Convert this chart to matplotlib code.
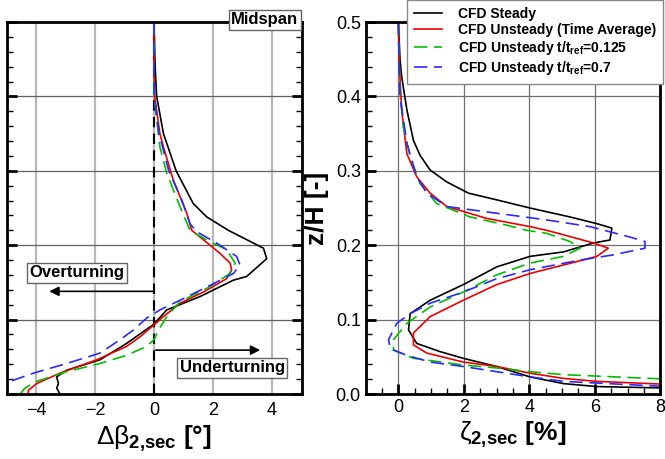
import matplotlib
matplotlib.use("Agg")
import matplotlib.pyplot as plt
from matplotlib.ticker import MultipleLocator

plt.rcParams['font.family'] = ['Liberation Sans', 'DejaVu Sans']
plt.rcParams['mathtext.fontset'] = 'custom'
plt.rcParams['mathtext.rm'] = 'Liberation Sans'
plt.rcParams['mathtext.it'] = 'Liberation Sans'
plt.rcParams['mathtext.bf'] = 'Liberation Sans:bold'

# ---------------- data: left panel (delta beta vs z/H) ----------------
z_b_steady = [0.5, 0.45, 0.43, 0.40, 0.35, 0.30, 0.256, 0.238, 0.22, 0.196, 0.182, 0.178, 0.158, 0.153,
              0.131, 0.113, 0.094, 0.068, 0.046, 0.032, 0.023, 0.014, 0.008, 0.0]
b_steady = [0.0, 0.03, 0.05, 0.09, 0.32, 0.75, 1.33, 1.79, 2.52, 3.71, 3.82, 3.71, 3.14, 2.69,
            1.56, 0.43, 0.0, -0.93, -1.83, -2.96, -3.3, -3.24, -3.3, -3.19]

z_b_avg = [0.5, 0.45, 0.40, 0.35, 0.332, 0.288, 0.243, 0.22, 0.211, 0.189, 0.176, 0.167, 0.155, 0.137,
           0.122, 0.104, 0.093, 0.077, 0.064, 0.046, 0.028, 0.014, 0.005, 0.0]
b_avg = [0.0, 0.0, 0.02, 0.2, 0.32, 0.65, 1.11, 1.28, 1.56, 2.24, 2.58, 2.63, 2.46, 1.67,
         0.88, 0.32, 0.0, -0.47, -0.93, -1.94, -3.19, -3.98, -4.26, -4.26]

z_b_t0125 = [0.5, 0.45, 0.40, 0.332, 0.297, 0.252, 0.22, 0.207, 0.194, 0.176, 0.162, 0.142, 0.124,
             0.104, 0.086, 0.073, 0.064, 0.052, 0.041, 0.03, 0.017, 0.008, 0.0]
b_t0125 = [0.0, 0.0, 0.0, 0.2, 0.43, 0.88, 1.22, 1.79, 2.46, 2.75, 2.58, 1.79, 0.88,
           0.43, 0.15, 0.0, -0.25, -0.93, -1.83, -2.96, -3.98, -4.37, -4.54]

z_b_t07 = [0.5, 0.45, 0.40, 0.35, 0.30, 0.26, 0.229, 0.218, 0.203, 0.185, 0.173, 0.162, 0.146, 0.126,
           0.113, 0.102, 0.086, 0.073, 0.055, 0.041, 0.028, 0.017, 0.012]
b_t07 = [0.0, 0.0, 0.01, 0.17, 0.5, 0.95, 1.22, 1.45, 2.12, 2.8, 2.92, 2.69, 1.9, 0.88,
         0.2, -0.25, -0.7, -1.15, -1.83, -2.96, -4.09, -4.88, -5.3]

# ---------------- data: right panel (zeta vs z/H) ----------------
z_z_steady = [0.5, 0.45, 0.427, 0.382, 0.341, 0.321, 0.301, 0.285, 0.27, 0.261, 0.25, 0.238, 0.229, 0.223,
              0.207, 0.203, 0.191, 0.185, 0.171, 0.147, 0.126, 0.108, 0.086, 0.068, 0.057, 0.048,
              0.037, 0.023, 0.014, 0.010, 0.008]
zeta_steady = [0.0, 0.05, 0.1, 0.26, 0.46, 0.66, 0.97, 1.48, 2.14, 3.0, 4.02, 5.24, 6.06, 6.52,
               6.46, 5.96, 5.04, 4.02, 3.01, 1.98, 0.97, 0.36, 0.31, 0.56, 1.27, 1.98,
               3.0, 4.02, 5.04, 6.06, 8.2]

z_z_avg = [0.5, 0.45, 0.382, 0.323, 0.292, 0.27, 0.252, 0.236, 0.225, 0.22, 0.214, 0.203, 0.196, 0.185,
           0.178, 0.162, 0.147, 0.126, 0.104, 0.082, 0.066, 0.055, 0.043, 0.037, 0.028, 0.021,
           0.017, 0.013]
zeta_avg = [0.0, 0.02, 0.1, 0.26, 0.56, 0.97, 1.48, 2.7, 4.02, 4.53, 5.04, 5.96, 6.41, 6.06,
            5.45, 4.02, 3.0, 1.98, 0.97, 0.46, 0.46, 0.87, 1.98, 3.0, 4.02, 5.04,
            6.06, 8.2]

z_z_t0125 = [0.5, 0.45, 0.409, 0.359, 0.319, 0.283, 0.256, 0.238, 0.227, 0.22, 0.216, 0.205, 0.196,
             0.185, 0.176, 0.16, 0.137, 0.117, 0.095, 0.073, 0.059, 0.048, 0.039, 0.035, 0.03,
             0.026, 0.02]
zeta_t0125 = [0.0, 0.02, 0.05, 0.15, 0.36, 0.66, 1.17, 2.19, 3.31, 3.92, 4.53, 5.24, 5.55,
              5.04, 4.02, 3.0, 1.98, 0.97, 0.26, -0.15, -0.15, 0.46, 1.98, 3.0, 4.02,
              5.04, 8.2]

z_z_t07 = [0.5, 0.45, 0.4, 0.337, 0.292, 0.27, 0.252, 0.243, 0.234, 0.225, 0.211, 0.205, 0.196,
           0.187, 0.18, 0.167, 0.155, 0.137, 0.122, 0.108, 0.095, 0.073, 0.061, 0.052, 0.043,
           0.037, 0.03, 0.023, 0.017, 0.01]
zeta_t07 = [0.0, 0.02, 0.05, 0.26, 0.56, 0.87, 1.48, 3.0, 4.53, 5.85, 7.07, 7.53, 7.53,
            6.56, 5.55, 4.02, 3.0, 1.98, 0.97, 0.36, -0.05, -0.3, -0.25, 0.26, 0.97,
            1.98, 3.0, 4.02, 5.04, 8.2]

labels = ['CFD Steady', 'CFD Unsteady (Time Average)',
          r'CFD Unsteady t/t$_{\mathbf{ref}}$=0.125', r'CFD Unsteady t/t$_{\mathbf{ref}}$=0.7']
colors = ['black', '#ee0000', '#00c000', '#2a2aff']
styles = ['-', '-', (0, (8, 4)), (0, (8, 4))]

fig = plt.figure(figsize=(6.65, 4.59), dpi=100)
axL = fig.add_axes([0.0098, 0.1416, 0.4436, 0.8104])
axR = fig.add_axes([0.5498, 0.1416, 0.4432, 0.8104])

lw = 1.2
for ax in (axL, axR):
    for s in ax.spines.values():
        s.set_linewidth(2.0)
    ax.set_ylim(0, 0.5)
    ax.yaxis.set_major_locator(MultipleLocator(0.1))
    ax.yaxis.set_minor_locator(MultipleLocator(0.02))
    ax.tick_params(axis='both', which='major', direction='in', length=7, width=2.0, labelsize=13)
    ax.tick_params(axis='both', which='minor', direction='in', length=4, width=1.0)
    ax.set_axisbelow(True)

# Left panel
axL.set_xlim(-5, 5)
axL.xaxis.set_major_locator(MultipleLocator(2))
axL.tick_params(axis='y', which='both', left=True, right=True, labelleft=False)
axL.tick_params(axis='x', which='major', length=0, pad=6)
axL.xaxis.grid(True, color='#b8b8b8', linewidth=1.6)
axL.yaxis.grid(True, color='#606060', linewidth=0.9)
axL.axvline(0, color='black', linestyle=(0, (5, 3)), linewidth=1.5, zorder=1.5)
axL.plot(b_steady, z_b_steady, color=colors[0], linestyle=styles[0], lw=lw)
axL.plot(b_avg, z_b_avg, color=colors[1], linestyle=styles[1], lw=lw)
axL.plot(b_t0125, z_b_t0125, color=colors[2], linestyle=styles[2], lw=lw)
axL.plot(b_t07, z_b_t07, color=colors[3], linestyle=styles[3], lw=lw)
axL.set_xlabel(r'$\Delta\beta_{\mathbf{2{,}sec}}$ [°]', fontsize=19, fontweight='bold', labelpad=3)

box = dict(boxstyle='square,pad=0.15', fc='white', ec='#666666', lw=1.0)
axL.text(-2.62, 0.163, 'Overturning', fontsize=12, fontweight='bold', ha='center', va='center', bbox=box)
axL.annotate('', xy=(-3.55, 0.138), xytext=(0.0, 0.138),
             arrowprops=dict(arrowstyle='-|>', color='black', lw=1.2, mutation_scale=14, shrinkA=0, shrinkB=0))
axL.text(2.65, 0.035, 'Underturning', fontsize=12, fontweight='bold', ha='center', va='center', bbox=box)
axL.annotate('', xy=(3.6, 0.059), xytext=(0.06, 0.059),
             arrowprops=dict(arrowstyle='-|>', color='black', lw=1.2, mutation_scale=14, shrinkA=0, shrinkB=0))
axL.text(0.876, 1.006, 'Midspan', transform=axL.transAxes, fontsize=12, fontweight='bold',
         ha='center', va='center', bbox=box, zorder=5)

# Right panel
axR.set_xlim(-1, 8)
axR.xaxis.set_major_locator(MultipleLocator(2))
axR.xaxis.set_minor_locator(MultipleLocator(0.5))
axR.tick_params(axis='y', which='both', right=False)
axR.tick_params(axis='x', which='both', top=False)
axR.grid(True, which='major', color='#707070', linewidth=0.9)
lines = []
lines += axR.plot(zeta_steady, z_z_steady, color=colors[0], linestyle=styles[0], lw=lw)
lines += axR.plot(zeta_avg, z_z_avg, color=colors[1], linestyle=styles[1], lw=lw)
lines += axR.plot(zeta_t0125, z_z_t0125, color=colors[2], linestyle=styles[2], lw=lw)
lines += axR.plot(zeta_t07, z_z_t07, color=colors[3], linestyle=styles[3], lw=lw)
axR.set_xlabel(r'$\zeta_{\mathbf{2{,}sec}}$ [%]', fontsize=19, fontweight='bold', labelpad=3)
axR.set_ylabel('z/H [-]', fontsize=19, fontweight='bold', labelpad=5)

leg = fig.legend(lines, labels, loc='upper right', bbox_to_anchor=(0.997, 1.0),
                 prop={'weight': 'bold', 'size': 10}, frameon=True, fancybox=False,
                 edgecolor='#888888', framealpha=1.0, handlelength=2.0, handletextpad=1.15,
                 borderpad=0.5, labelspacing=0.15, borderaxespad=0)
leg.get_frame().set_linewidth(1.0)

fig.savefig('out.png', dpi=100)
